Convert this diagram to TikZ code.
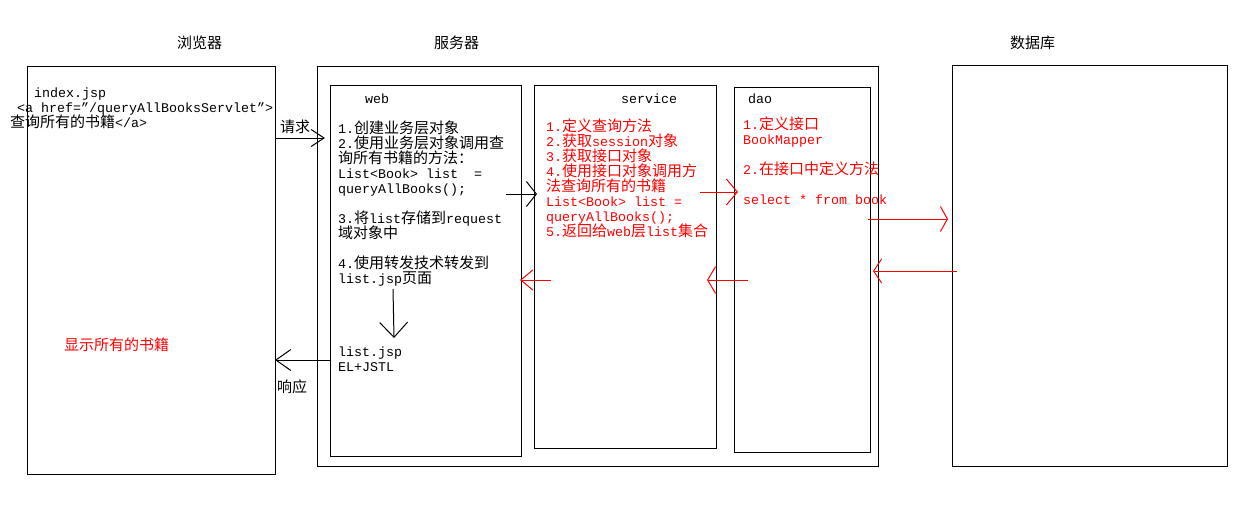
\documentclass[tikz,border=0pt]{standalone}
\usepackage{fontspec}
\setmainfont[Scale=0.889]{Liberation Mono}
\newfontfamily\zh{Noto Sans CJK SC}
\usetikzlibrary{arrows.meta}
\newcommand{\z}[1]{{\zh #1}}
\tikzset{
  box/.style={draw=black, line width=1pt, anchor=north west, inner sep=0pt},
  txt/.style={anchor=base west, inner sep=0pt, font=\fontsize{15}{15}\selectfont},
  rtxt/.style={txt, text=red},
  ttl/.style={anchor=base west, inner sep=0pt, font=\fontsize{15}{15}\selectfont\zh},
  conn/.style={line width=1pt},
  rconn/.style={line width=1pt, draw=red},
}
\begin{document}
\begin{tikzpicture}[x=1pt,y=-1pt]
\useasboundingbox[fill=white] (0,0) rectangle (1246,517);
% titles
\node[ttl] (tb) at (177,48) {浏览器};
\node[ttl] (ts) at (434,48) {服务器};
\node[ttl] (td) at (1010,48) {数据库};
% boxes
\node[box, minimum width=248pt, minimum height=408pt] (brow) at (27,66) {};
\node[box, minimum width=561pt, minimum height=400pt] (serv) at (317,66) {};
\node[box, minimum width=191pt, minimum height=371pt] (web) at (330,85) {};
\node[box, minimum width=182pt, minimum height=363pt] (svc) at (534,85) {};
\node[box, minimum width=136pt, minimum height=365pt] (dao) at (734,87) {};
\node[box, minimum width=275pt, minimum height=401pt] (db) at (952,65) {};
% browser text
\node[txt] (b1) at (34,97) {index.jsp};
\node[txt] (b2) at (17,112) {<a~href="/queryAllBooksServlet">};
\node[txt] (b3) at (10,127) {\z{查询所有的书籍}</a>};
\node[rtxt] (b4) at (64,350) {\z{显示所有的书籍}};
\node[txt] (req) at (280,132) {\z{请求}};
\node[txt] (resp) at (277,392) {\z{响应}};
% web text
\node[txt] (w0) at (365,103) {web};
\node[txt] (w1) at (338,133) {1.\z{创建业务层对象}};
\node[txt] (w2) at (338,148) {2.\z{使用业务层对象调用查}};
\node[txt] (w3) at (338,163) {\z{询所有书籍的方法：}};
\node[txt] (w4) at (338,178) {List<Book>~list~~=};
\node[txt] (w5) at (338,193) {queryAllBooks();};
\node[txt] (w6) at (338,223) {3.\z{将}list\z{存储到}request};
\node[txt] (w7) at (338,238) {\z{域对象中}};
\node[txt] (w8) at (338,268) {4.\z{使用转发技术转发到}};
\node[txt] (w9) at (338,283) {list.jsp\z{页面}};
\node[txt] (l1) at (338,356) {list.jsp};
\node[txt] (l2) at (338,371) {EL+JSTL};
% service text
\node[txt] (s0) at (621,103) {service};
\node[rtxt] (s1) at (546,131) {1.\z{定义查询方法}};
\node[rtxt] (s2) at (546,146) {2.\z{获取}session\z{对象}};
\node[rtxt] (s3) at (546,161) {3.\z{获取接口对象}};
\node[rtxt] (s4) at (546,176) {4.\z{使用接口对象调用方}};
\node[rtxt] (s5) at (546,191) {\z{法查询所有的书籍}};
\node[rtxt] (s6) at (546,206) {List<Book>~list~=};
\node[rtxt] (s7) at (546,221) {queryAllBooks();};
\node[rtxt] (s8) at (546,236) {5.\z{返回给}web\z{层}list\z{集合}};
% dao text
\node[txt] (d0) at (748,103) {dao};
\node[rtxt] (d1) at (743,129) {1.\z{定义接口}};
\node[rtxt] (d2) at (743,144) {BookMapper};
\node[rtxt] (d3) at (743,174) {2.\z{在接口中定义方法}};
\node[rtxt] (d4) at (743,204) {select~*~from~book};
% connector end points
\coordinate (a1s) at (275,138); \coordinate (a1e) at (325,138);
\coordinate (a2s) at (506,194); \coordinate (a2e) at (537,194);
\coordinate (a3s) at (700,192); \coordinate (a3e) at (738,192);
\coordinate (a4s) at (868,219); \coordinate (a4e) at (948,219);
\coordinate (a5s) at (957,271); \coordinate (a5e) at (873,271);
\coordinate (a6s) at (748,280); \coordinate (a6e) at (707,280);
\coordinate (a7s) at (551,280); \coordinate (a7e) at (520,280);
\coordinate (a8s) at (393,289); \coordinate (a8e) at (394,338);
\coordinate (a9s) at (331,360); \coordinate (a9e) at (275,360);
% connectors
\draw[conn, -{Straight Barb[length=13pt,width=17pt,line width=1pt]}] (a1s) -- (a1e);
\draw[conn, -{Straight Barb[length=10pt,width=25pt,line width=1pt]}] (a2s) -- (a2e);
\draw[rconn, -{Straight Barb[length=11pt,width=26pt,line width=1pt]}] (a3s) -- (a3e);
\draw[rconn, -{Straight Barb[length=7pt,width=25pt,line width=1pt]}] (a4s) -- (a4e);
\draw[rconn, -{Straight Barb[length=8pt,width=24pt,line width=1pt]}] (a5s) -- (a5e);
\draw[rconn, -{Straight Barb[length=8pt,width=27pt,line width=1pt]}] (a6s) -- (a6e);
\draw[rconn, -{Straight Barb[length=12pt,width=20pt,line width=1pt]}] (a7s) -- (a7e);
\draw[conn, -{Straight Barb[length=15pt,width=28pt,line width=1pt]}] (a8s) -- (a8e);
\draw[conn, -{Straight Barb[length=15pt,width=21pt,line width=1pt]}] (a9s) -- (a9e);
\end{tikzpicture}
\end{document}
